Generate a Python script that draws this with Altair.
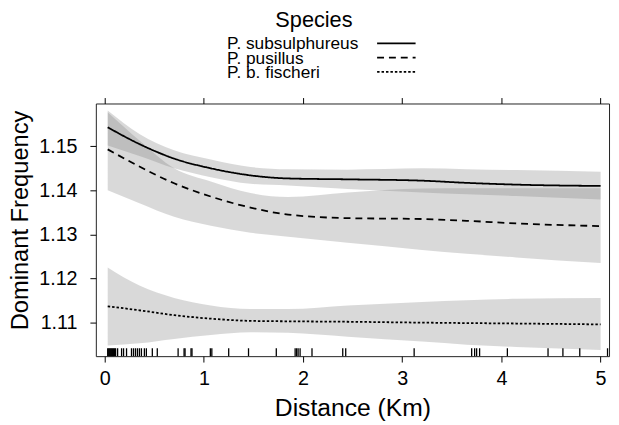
import altair as alt
import pandas as pd

species = ["P. subsulphureus", "P. pusillus", "P. b. fischeri"]
legend_title = "Species"

dist_km = [0.03, 0.35, 0.7, 1.07, 1.47, 1.85, 2.45, 3.2, 3.65, 4.15, 5.0]

fit_sub = [1.1543, 1.1505, 1.1472, 1.1450, 1.1434, 1.1427, 1.1425, 1.1422, 1.1417, 1.1413, 1.1410]
hi_sub = [1.1581, 1.1528, 1.1491, 1.1470, 1.1453, 1.1448, 1.1447, 1.1450, 1.1448, 1.1446, 1.1442]
lo_sub = [1.1502, 1.1478, 1.1450, 1.1430, 1.1415, 1.1411, 1.1403, 1.1395, 1.1391, 1.1387, 1.1379]

fit_pus = [1.1493, 1.1454, 1.1416, 1.1386, 1.1361, 1.1345, 1.1337, 1.1335, 1.1331, 1.1325, 1.1319]
hi_pus = [1.1577, 1.1513, 1.1450, 1.1420, 1.1394, 1.1385, 1.1395, 1.1404, 1.1405, 1.1405, 1.1405]
lo_pus = [1.1400, 1.1371, 1.1340, 1.1320, 1.1304, 1.1295, 1.1281, 1.1265, 1.1256, 1.1248, 1.1235]

fit_fis = [1.1137, 1.1128, 1.1117, 1.1109, 1.1104, 1.1103, 1.1102, 1.1100, 1.1099, 1.1098, 1.1096]
hi_fis = [1.1225, 1.1184, 1.1156, 1.1139, 1.1131, 1.1131, 1.1139, 1.1147, 1.1151, 1.1154, 1.1156]
lo_fis = [1.1048, 1.1053, 1.1063, 1.1072, 1.1078, 1.1077, 1.1068, 1.1057, 1.1050, 1.1045, 1.1038]

rug_km = [0.03, 0.04, 0.05, 0.06, 0.07, 0.08, 0.09, 0.10, 0.11, 0.13, 0.17, 0.19,
          0.22, 0.27, 0.29, 0.31, 0.33, 0.35, 0.37, 0.40, 0.42, 0.48, 0.53, 0.74,
          0.80, 0.81, 0.87, 0.88, 1.065, 1.08, 1.25, 1.45, 1.73, 1.92, 1.935, 1.95,
          1.97, 2.09, 2.40, 2.43, 3.12, 3.70, 3.73, 3.75, 3.78, 4.06, 4.47, 4.62,
          4.79, 5.07]

x_ticks = [0, 1, 2, 3, 4, 5]
y_ticks = [1.11, 1.12, 1.13, 1.14, 1.15]

FONT = "Liberation Sans"

rows = []
for sp, fit, lo, hi in [(species[0], fit_sub, lo_sub, hi_sub),
                        (species[1], fit_pus, lo_pus, hi_pus),
                        (species[2], fit_fis, lo_fis, hi_fis)]:
    for d, f, l, h in zip(dist_km, fit, lo, hi):
        rows.append({"species": sp, "dist": d, "fit": f, "lo": l, "hi": h})
df = pd.DataFrame(rows)
rug_df = pd.DataFrame({"km": rug_km})
leg_df = pd.DataFrame({"species": species, "row": [0, 1, 2]})
title_df = pd.DataFrame({"t": [legend_title]})

xscale = alt.Scale(domain=[-0.0896, 5.085], nice=False, zero=False)
yscale = alt.Scale(domain=[1.1024, 1.1597], nice=False, zero=False)
dash_scale = alt.Scale(domain=species, range=[[1, 0], [7, 5], [2.5, 2]])

bands = alt.Chart(df).mark_area(color="#808080", opacity=0.3, interpolate="monotone").encode(
    x=alt.X("dist:Q", scale=xscale, axis=alt.Axis(
        orient="bottom", values=x_ticks, format="d", tickSize=6, labelPadding=7,
        labelFontSize=20, labelFont=FONT, labelColor="black", tickColor="black",
        domain=False, grid=False, title="Distance (Km)", titleFontSize=25,
        titleFont=FONT, titleFontWeight="normal", titleColor="black",
        titleY=60, titleBaseline="alphabetic")),
    y=alt.Y("lo:Q", scale=yscale, axis=alt.Axis(
        orient="left", values=y_ticks, format=".2f", tickSize=6, labelPadding=13,
        labelFontSize=20, labelFont=FONT, labelColor="black", tickColor="black",
        domain=False, grid=False, title="Dominant Frequency", titleFontSize=24,
        titleFont=FONT, titleFontWeight="normal", titleColor="black",
        titleX=-69, titleY=118, titleBaseline="alphabetic", titleAngle=270)),
    y2="hi:Q",
    detail="species:N",
)

lines = alt.Chart(df).mark_line(color="black", strokeWidth=1.8, interpolate="monotone").encode(
    x=alt.X("dist:Q", scale=xscale, axis=None),
    y=alt.Y("fit:Q", scale=yscale, axis=None),
    strokeDash=alt.StrokeDash("species:N", scale=dash_scale, legend=None),
)

rug = alt.Chart(rug_df).mark_rule(color="black", strokeWidth=1.3).encode(
    x=alt.X("km:Q", scale=xscale, axis=alt.Axis(
        orient="top", values=x_ticks, tickSize=6, labels=False, tickColor="black",
        domain=False, grid=False, title=None)),
    y=alt.value(248),
    y2=alt.value(256),
)

main = alt.layer(bands, lines, rug).resolve_axis(x="independent", y="independent")

leg_y = alt.Scale(domain=[0, 2], range=[-61, -32])

leg_text = alt.Chart(leg_df).mark_text(
    align="left", baseline="alphabetic", fontSize=17.5, font=FONT, color="black", dy=6
).encode(
    x=alt.value(133),
    y=alt.Y("row:Q", scale=leg_y, axis=None),
    text="species:N",
)

leg_lines = alt.Chart(leg_df).mark_rule(color="black", strokeWidth=1.8).encode(
    x=alt.value(285),
    x2=alt.value(324),
    y=alt.Y("row:Q", scale=leg_y, axis=None),
    strokeDash=alt.StrokeDash("species:N", scale=dash_scale, legend=None),
)

leg_title = alt.Chart(title_df).mark_text(
    align="center", baseline="alphabetic", fontSize=22, font=FONT, color="black"
).encode(
    x=alt.value(221),
    y=alt.value(-78),
    text="t:N",
)

legend = alt.layer(leg_text, leg_lines, leg_title)

chart = alt.layer(main, legend).resolve_scale(y="independent").properties(
    width=520,
    height=256,
    padding={"left": 89, "top": 94, "right": 2, "bottom": 67},
    autosize=alt.AutoSizeParams(type="none"),
    background="white",
).configure_view(stroke="#222222", strokeWidth=1)

chart.save("out.html", embed_options={"renderer": "svg", "actions": False})
